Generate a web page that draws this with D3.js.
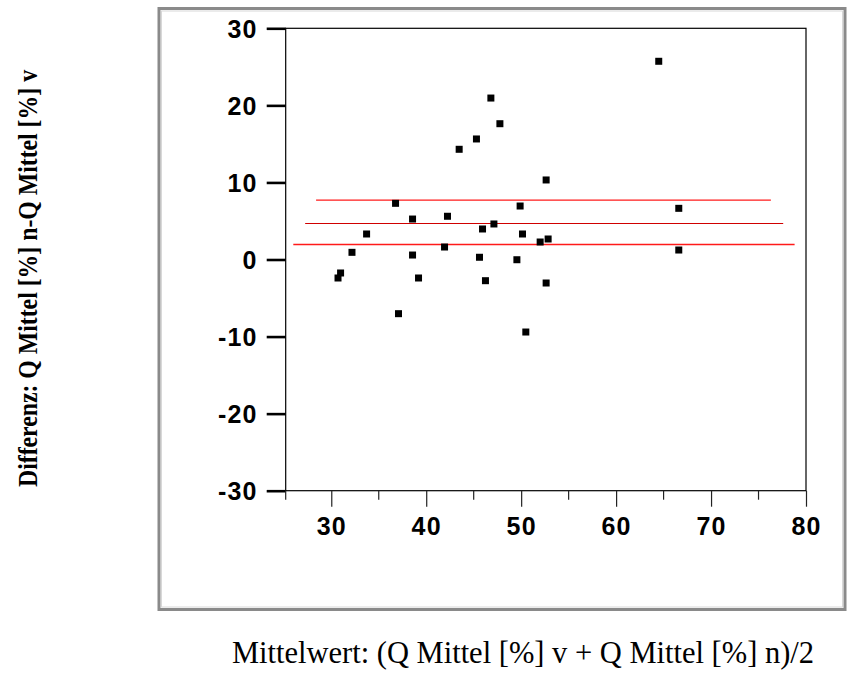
<!DOCTYPE html>
<html>
<head>
<meta charset="utf-8">
<script src="https://cdn.jsdelivr.net/npm/d3@7"></script>
<style>
  html, body { margin: 0; padding: 0; background: #fff; }
  svg { display: block; }
</style>
</head>
<body>
<svg id="chart" width="850" height="675"></svg>
<script>
// Bland-Altman data: mean of both measurements (x) vs. difference (y)
const meanValues = [30.71, 30.98, 32.18, 33.72, 36.77, 37.08, 38.56, 38.56, 39.19, 41.93,
                    42.24, 43.47, 45.29, 45.61, 45.93, 46.24, 46.81, 47.13, 47.76, 49.55,
                    49.89, 50.14, 50.49, 52.00, 52.63, 52.63, 52.84, 64.49, 66.60, 66.60];
const diffValues = [-2.40, -1.75, 0.93, 3.31, 7.29, -7.03, 5.25, 0.58, -2.40, 1.62,
                    5.61, 14.30, 15.64, 0.29, 3.96, -2.75, 20.95, 4.61, 17.62, -0.03,
                    6.94, 3.31, -9.41, 2.27, 10.32, -3.05, 2.66, 25.72, 6.64, 1.23];

// Reference lines: upper limit, mean difference, lower limit
const refLevels = [7.70, 4.70, 1.95];
const refStarts = [28.4, 27.25, 26.0];
const refEnds   = [76.3, 77.6, 78.8];
const refColors = ["#ff1a1a", "#d00000", "#ff1a1a"];

const xTicks = [30, 40, 50, 60, 70, 80];
const xMinorTicks = [35, 45, 55, 65, 75];
const yTicks = [-30, -20, -10, 0, 10, 20, 30];
const xDomain = [25.2, 80];
const yDomain = [-30, 30];

const xTitle = "Mittelwert: (Q Mittel [%] v + Q Mittel [%] n)/2";
const yTitle = "Differenz: Q Mittel [%] n-Q Mittel [%] v";

const svg = d3.select("#chart");
const plot = { left: 285.7, top: 28.3, right: 806, bottom: 490.7 };

const x = d3.scaleLinear().domain(xDomain).range([plot.left, plot.right]);
const y = d3.scaleLinear().domain(yDomain).range([plot.bottom, plot.top]);

// plain hyphen-minus for negative tick labels
const tickFmt = d => String(d);

// outer gray panel border
svg.append("rect")
  .attr("x", 159).attr("y", 8.5)
  .attr("width", 686).attr("height", 601)
  .attr("fill", "none").attr("stroke", "#8a8a8a").attr("stroke-width", 3);
svg.append("rect")
  .attr("x", 161.5).attr("y", 11)
  .attr("width", 681).attr("height", 596)
  .attr("fill", "none").attr("stroke", "#d8d8d8").attr("stroke-width", 1);

// reference lines
svg.append("g").selectAll("line")
  .data(refLevels)
  .join("line")
  .attr("x1", (d, i) => x(refStarts[i]))
  .attr("x2", (d, i) => x(refEnds[i]))
  .attr("y1", (d, i) => i === 1 ? Math.round(y(d)) + 0.5 : y(d))
  .attr("y2", (d, i) => i === 1 ? Math.round(y(d)) + 0.5 : y(d))
  .attr("stroke", (d, i) => refColors[i])
  .attr("stroke-width", (d, i) => i === 1 ? 1 : 1.4);

// data points as filled squares
const sq = 7;
svg.append("g").selectAll("rect")
  .data(meanValues)
  .join("rect")
  .attr("x", (d) => x(d) - sq / 2)
  .attr("y", (d, i) => y(diffValues[i]) - sq / 2)
  .attr("width", sq).attr("height", sq)
  .attr("fill", "#000");

// plot frame
svg.append("rect")
  .attr("x", plot.left).attr("y", plot.top)
  .attr("width", plot.right - plot.left).attr("height", plot.bottom - plot.top)
  .attr("fill", "none").attr("stroke", "#000").attr("stroke-width", 1.2);

const tickFont = "'Liberation Sans', Arial, Helvetica, sans-serif";

// y axis
const yAxis = svg.append("g")
  .attr("transform", `translate(${plot.left},0)`)
  .call(d3.axisLeft(y).tickValues(yTicks).tickSize(19).tickPadding(9).tickFormat(tickFmt));
yAxis.select(".domain").remove();
yAxis.selectAll(".tick line").attr("stroke", "#000").attr("stroke-width", 2.6);
yAxis.selectAll(".tick text")
  .attr("font-family", tickFont).attr("font-weight", "bold")
  .attr("font-size", 25).attr("letter-spacing", "1.2px")
  .attr("fill", "#000").attr("dy", "0.36em");

// x axis
const xAxis = svg.append("g")
  .attr("transform", `translate(0,${plot.bottom})`)
  .call(d3.axisBottom(x).tickValues(xTicks).tickSize(16).tickPadding(10.5).tickFormat(tickFmt));
xAxis.select(".domain").remove();
xAxis.selectAll(".tick line").attr("stroke", "#222").attr("stroke-width", 1.2);
xAxis.selectAll(".tick text")
  .attr("font-family", tickFont).attr("font-weight", "bold")
  .attr("font-size", 25).attr("letter-spacing", "1.2px")
  .attr("fill", "#000");

// minor x ticks, including one at the left end of the axis
svg.append("g").selectAll("line")
  .data([xDomain[0]].concat(xMinorTicks))
  .join("line")
  .attr("x1", d => x(d)).attr("x2", d => x(d))
  .attr("y1", plot.bottom).attr("y2", plot.bottom + 9)
  .attr("stroke", "#222").attr("stroke-width", 1.2);

// axis titles
svg.append("text")
  .attr("x", 523).attr("y", 663)
  .attr("text-anchor", "middle")
  .attr("font-family", "'Liberation Serif', 'Times New Roman', serif")
  .attr("font-size", 30.5)
  .attr("fill", "#000")
  .text(xTitle);

// vertical title, set in a slightly condensed bold serif
svg.append("text")
  .attr("transform", "translate(37,278.5) rotate(-90) scale(0.88,1)")
  .attr("text-anchor", "middle")
  .attr("font-family", "'Liberation Serif', 'Times New Roman', serif")
  .attr("font-weight", "bold")
  .attr("font-size", 27)
  .attr("fill", "#000")
  .text(yTitle);
</script>
</body>
</html>
